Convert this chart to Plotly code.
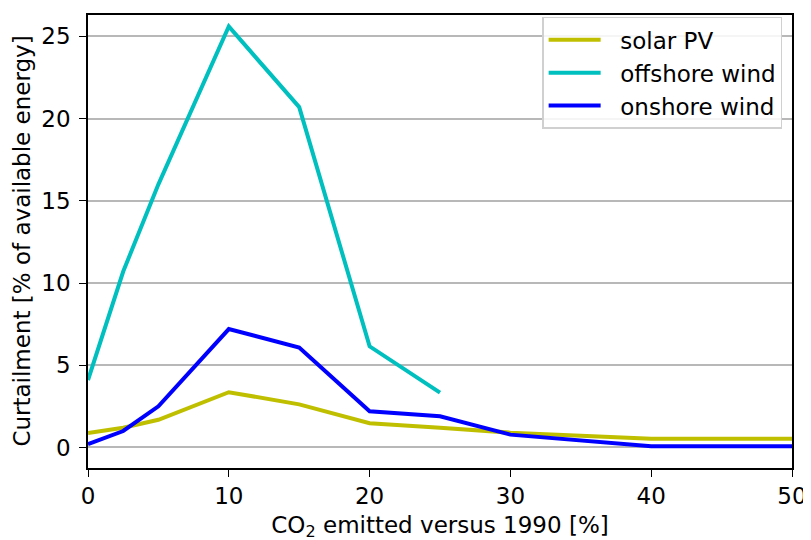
import plotly.graph_objects as go

x_vals = [0, 2.5, 5, 10, 15, 20, 25, 30, 40, 50]
solar_pv = [0.88, 1.2, 1.68, 3.36, 2.62, 1.47, 1.2, 0.9, 0.53, 0.53]
offshore_x = [0, 2.5, 5, 10, 15, 20, 25]
offshore_wind = [4.1, 10.7, 16.0, 25.6, 20.7, 6.15, 3.33]
onshore_wind = [0.2, 1.0, 2.5, 7.2, 6.08, 2.2, 1.9, 0.78, 0.07, 0.07]
series_names = ["solar PV", "offshore wind", "onshore wind"]

FS = 23
PAD = "\u00a0\u00a0"

fig = go.Figure()
fig.add_trace(go.Scatter(x=x_vals, y=solar_pv, mode="lines", name=PAD + series_names[0], legendgroup="a",
                         line=dict(color="#bfbf00", width=4)))
fig.add_trace(go.Scatter(x=offshore_x, y=offshore_wind, mode="lines", name=PAD + series_names[1], legendgroup="b",
                         line=dict(color="#00bfbf", width=4)))
fig.add_trace(go.Scatter(x=x_vals, y=onshore_wind, mode="lines", name=PAD + series_names[2], legendgroup="c",
                         line=dict(color="#0000ff", width=4)))

axis_common = dict(showline=True, linecolor="black", linewidth=1.6, mirror=True,
                   ticks="outside", ticklen=7, tickwidth=1.4, tickcolor="black",
                   zeroline=False, automargin=False,
                   tickfont=dict(family="DejaVu Sans", size=FS, color="black"))

fig.update_layout(
    width=811, height=540,
    margin=dict(l=80, r=27, t=7, b=80),
    plot_bgcolor="white", paper_bgcolor="white",
    font=dict(family="DejaVu Sans", size=FS, color="black"),
    xaxis=dict(range=[0, 50], tickvals=[0, 10, 20, 30, 40, 50], showgrid=False,
               title=dict(text="CO<sub>2</sub> emitted versus 1990 [%]", standoff=8,
                          font=dict(size=FS)),
               **axis_common),
    yaxis=dict(range=[-1.25, 26.3], tickvals=[0, 5, 10, 15, 20, 25], showgrid=True,
               gridcolor="#b8b8b8", gridwidth=1.6, ticklabelstandoff=4,
               **axis_common),
    legend=dict(x=0.986, y=0.996, xanchor="right", yanchor="top",
                bgcolor="rgba(255,255,255,0.85)", bordercolor="#d0d0d0", borderwidth=1.5,
                font=dict(size=FS), itemwidth=52, tracegroupgap=0),
    showlegend=True,
    annotations=[dict(text="Curtailment [% of available energy]", textangle=-90,
                      xref="paper", yref="paper", x=-0.095, y=0.5,
                      xanchor="center", yanchor="middle", showarrow=False,
                      font=dict(size=FS, color="black"))],
)

fig.write_html("out.html")
